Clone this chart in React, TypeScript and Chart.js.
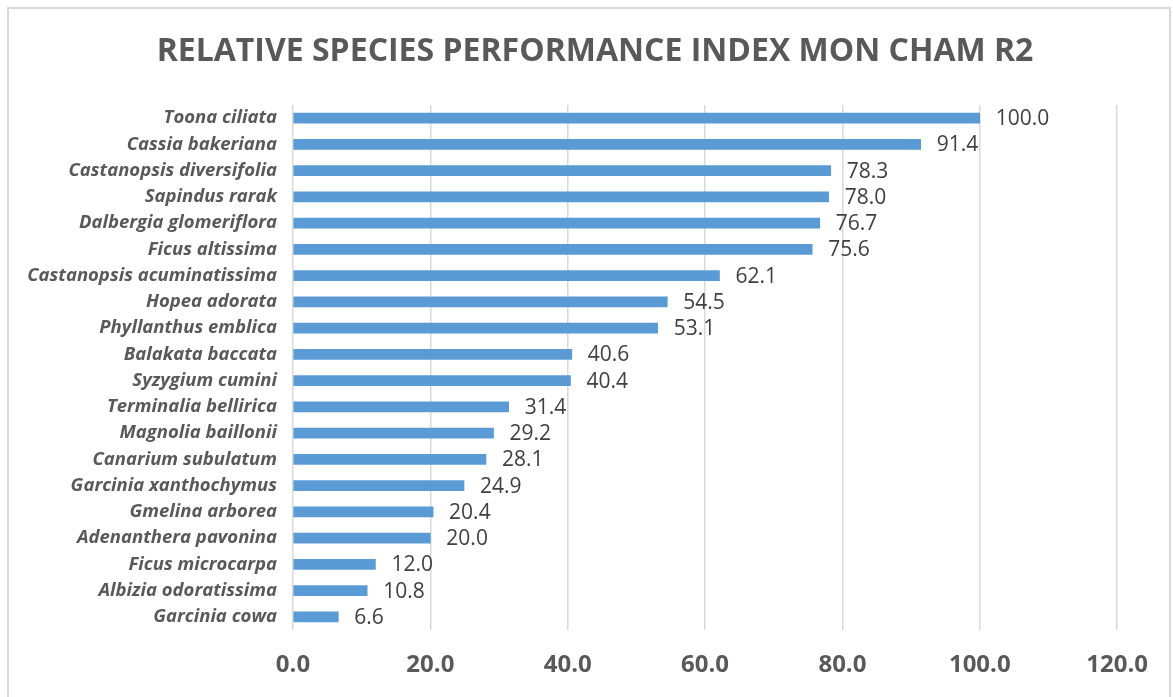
import React, { useEffect, useRef } from "react";
import { Chart, registerables } from "chart.js";

Chart.register(...registerables);

const title = "RELATIVE SPECIES PERFORMANCE INDEX MON CHAM R2";

const species = [
  "Toona ciliata",
  "Cassia bakeriana",
  "Castanopsis diversifolia",
  "Sapindus rarak",
  "Dalbergia glomeriflora",
  "Ficus altissima",
  "Castanopsis acuminatissima",
  "Hopea adorata",
  "Phyllanthus emblica",
  "Balakata baccata",
  "Syzygium cumini",
  "Terminalia bellirica",
  "Magnolia baillonii",
  "Canarium subulatum",
  "Garcinia xanthochymus",
  "Gmelina arborea",
  "Adenanthera pavonina",
  "Ficus microcarpa",
  "Albizia odoratissima",
  "Garcinia cowa",
];

const performance = [
  100.0, 91.4, 78.3, 78.0, 76.7, 75.6, 62.1, 54.5, 53.1, 40.6, 40.4, 31.4, 29.2,
  28.1, 24.9, 20.4, 20.0, 12.0, 10.8, 6.6,
];

const xTicks = [0, 20, 40, 60, 80, 100, 120];

const FONT = "'Open Sans', sans-serif";

const valueLabels = {
  id: "valueLabels",
  afterDatasetsDraw(chart: any) {
    const ctx = chart.ctx;
    const meta = chart.getDatasetMeta(0);
    ctx.save();
    ctx.font = `normal 21px ${FONT}`;
    ctx.fillStyle = "#404040";
    ctx.textAlign = "left";
    ctx.textBaseline = "middle";
    meta.data.forEach((bar: any, i: number) => {
      const v = chart.data.datasets[0].data[i] as number;
      ctx.fillText(v.toFixed(1), bar.x + 16, bar.y + 1);
    });
    ctx.restore();
  },
};

// centre the title over the whole chart box rather than the padded layout
const titleShift = {
  id: "titleShift",
  afterLayout(chart: any) {
    if (chart.titleBlock) chart.titleBlock.left = 55;
  },
};

export default function App() {
  const ref = useRef<HTMLCanvasElement | null>(null);

  useEffect(() => {
    if (!ref.current) return;
    const chart = new Chart(ref.current, {
      type: "bar",
      data: {
        labels: species,
        datasets: [
          {
            data: performance,
            backgroundColor: "#5b9bd5",
            borderWidth: 0,
            barThickness: 10,
          },
        ],
      },
      options: {
        indexAxis: "y",
        responsive: false,
        animation: false,
        layout: { padding: { left: 0, right: 43, top: 0, bottom: 0 } },
        plugins: {
          legend: { display: false },
          tooltip: { enabled: false },
          title: {
            display: true,
            text: title,
            color: "#595959",
            font: { family: FONT, size: 32, weight: "bold" },
            padding: { top: 24, bottom: 33.6 },
          },
        },
        scales: {
          x: {
            min: 0,
            max: 120,
            afterBuildTicks: (s: any) => {
              s.ticks = xTicks.map((v) => ({ value: v }));
            },
            afterFit: (s: any) => {
              s.height = 67;
            },
            grid: { color: "#d9d9d9", lineWidth: 1.5, drawTicks: false },
            border: { display: false },
            ticks: {
              color: "#595959",
              font: { family: FONT, size: 24, weight: "bold" },
              padding: 21,
              callback: (v: any) => Number(v).toFixed(1),
            },
          },
          y: {
            afterFit: (s: any) => {
              s.width = 284;
            },
            grid: { display: false, drawTicks: false },
            border: { display: false },
            ticks: {
              color: "#595959",
              font: { family: FONT, size: 18.5, weight: "bold", style: "italic" },
              padding: 16,
              autoSkip: false,
            },
          },
        },
      },
      plugins: [valueLabels, titleShift],
    });
    return () => chart.destroy();
  }, []);

  return (
    <div
      style={{
        position: "absolute",
        left: 7,
        top: 7,
        width: 1164,
        height: 700,
        boxSizing: "border-box",
        border: "2px solid #d9d9d9",
        background: "#fff",
        overflow: "hidden",
      }}
    >
      <canvas ref={ref} width={1160} height={688} style={{ display: "block" }} />
    </div>
  );
}
